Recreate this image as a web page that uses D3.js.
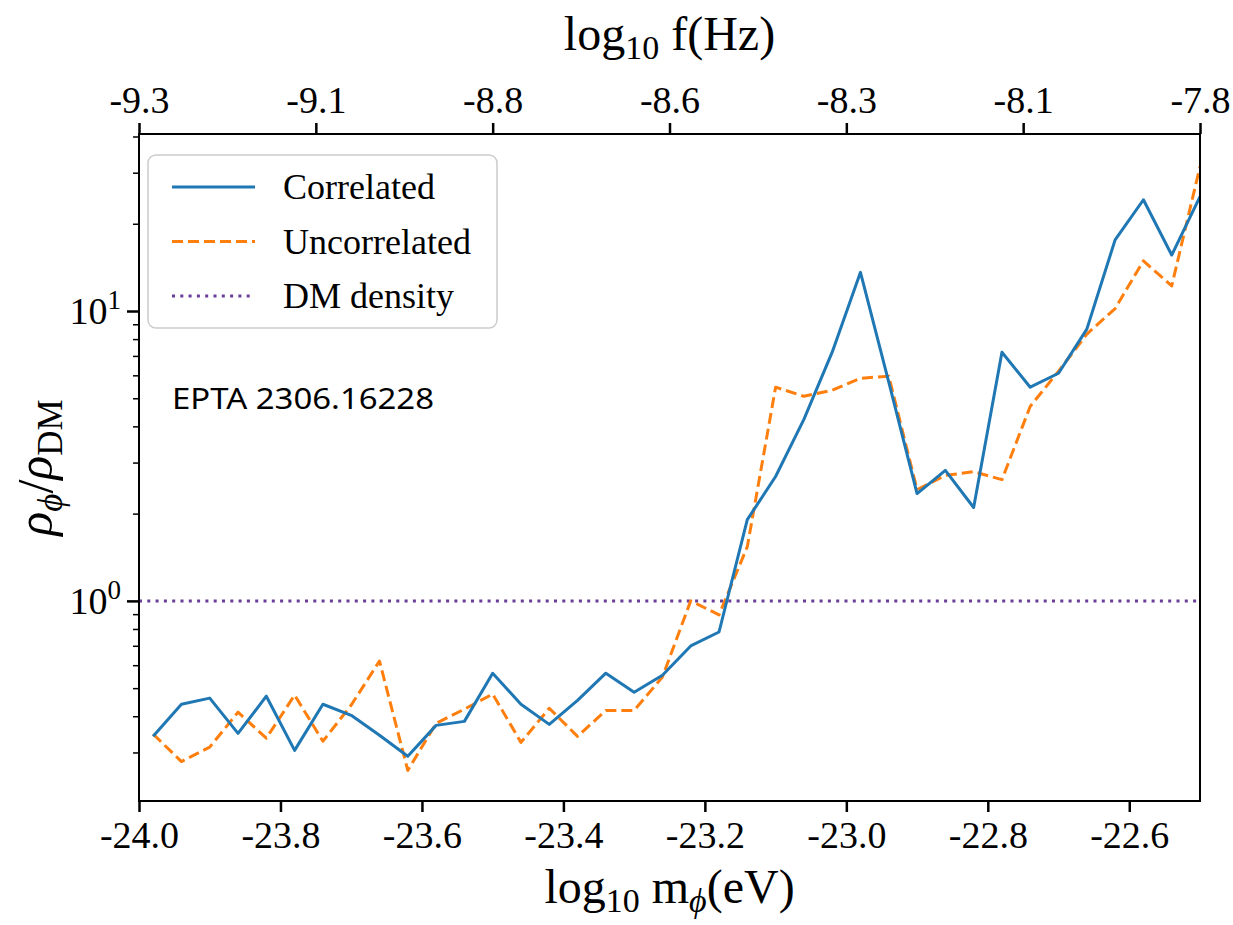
<!DOCTYPE html>
<html><head><meta charset="utf-8">
<script src="https://cdn.jsdelivr.net/npm/d3@7"></script>
<style>
body{margin:0;background:#fff}
</style>
</head><body>
<svg id="chart" width="1233" height="925" font-family="Liberation Serif, DejaVu Serif, serif"></svg>
<script>
// ---- data ----
const massLog = [-23.98,-23.94,-23.90,-23.86,-23.82,-23.78,-23.74,-23.70,-23.66,-23.62,
                 -23.58,-23.54,-23.50,-23.46,-23.42,-23.38,-23.34,-23.30,-23.26,-23.22,
                 -23.18,-23.14,-23.10,-23.06,-23.02,-22.98,-22.94,-22.90,-22.86,-22.82,
                 -22.78,-22.74,-22.70,-22.66,-22.62,-22.58,-22.54,-22.50];
const correlated = [0.341,0.440,0.462,0.349,0.469,0.305,0.440,0.403,0.344,0.291,
                    0.372,0.384,0.563,0.440,0.375,0.454,0.563,0.484,0.554,0.699,
                    0.781,1.906,2.686,4.23,7.21,13.6,5.68,2.345,2.82,2.10,
                    7.21,5.46,6.10,8.66,17.6,24.2,15.6,24.8];
const uncorrelated = [0.347,0.279,0.313,0.413,0.336,0.473,0.328,0.437,0.620,0.260,
                      0.378,0.423,0.477,0.325,0.426,0.341,0.419,0.419,0.546,1.0,
                      0.895,1.538,5.46,5.08,5.33,5.86,5.96,2.42,2.71,2.79,
                      2.62,4.69,6.20,8.32,10.2,14.9,12.2,31.5];
const dmDensity = 1.0;
const xDomain = [-24.0, -22.5];
const yDomain = [0.204, 40.8];
const bottomTicks = [-24.0,-23.8,-23.6,-23.4,-23.2,-23.0,-22.8,-22.6];
const topTickPos = [-24.0,-23.75,-23.5,-23.25,-23.0,-22.75,-22.5];
const topTickLabels = ["-9.3","-9.1","-8.8","-8.6","-8.3","-8.1","-7.8"];
const yMajor = [1, 10];
const yMinor = [0.3,0.4,0.5,0.6,0.7,0.8,0.9,2,3,4,5,6,7,8,9,20,30,40];
const legendLabels = ["Correlated","Uncorrelated","DM density"];
const noteText = "EPTA 2306.16228";

// ---- layout ----
const L = 139, R = 1200, T = 134, B = 801;
const colors = {corr:"#1f77b4", unc:"#ff7f0e", dm:"#6a3d9a"};
const svg = d3.select("#chart");
const x = d3.scaleLinear().domain(xDomain).range([L, R]);
const y = d3.scaleLog().domain(yDomain).range([B, T]);

svg.append("defs").append("clipPath").attr("id","clip")
  .append("rect").attr("x",L).attr("y",T).attr("width",R-L).attr("height",B-T);
const plot = svg.append("g").attr("clip-path","url(#clip)");

plot.append("line").attr("x1",L).attr("x2",R).attr("y1",y(dmDensity)).attr("y2",y(dmDensity))
  .attr("stroke",colors.dm).attr("stroke-width",3).attr("stroke-dasharray","3,5.3");

const line = d3.line().x((d,i)=>x(massLog[i])).y(d=>y(d));
plot.append("path").datum(uncorrelated).attr("d",line).attr("fill","none")
  .attr("stroke",colors.unc).attr("stroke-width",3).attr("stroke-dasharray","11,5")
  .attr("stroke-linejoin","round");
plot.append("path").datum(correlated).attr("d",line).attr("fill","none")
  .attr("stroke",colors.corr).attr("stroke-width",3).attr("stroke-linejoin","round");

// axes
const tickFont = "38px";
const bAxis = svg.append("g").attr("transform",`translate(0,${B})`)
  .call(d3.axisBottom(x).tickValues(bottomTicks).tickFormat(d3.format(".1f")).tickSize(11).tickPadding(9));
const tAxis = svg.append("g").attr("transform",`translate(0,${T})`)
  .call(d3.axisTop(x).tickValues(topTickPos).tickFormat((d,i)=>topTickLabels[i]).tickSize(11).tickPadding(10));
[bAxis,tAxis].forEach(a=>{
  a.attr("font-family",null).attr("font-size",null);
  a.select(".domain").remove();
  a.selectAll(".tick line").attr("stroke","#000").attr("stroke-width",2.5);
  a.selectAll(".tick text").style("font-family","Liberation Serif").style("font-size",tickFont).attr("fill","#000")
   .text(function(){return this.textContent.replace("−","-");});
});

const lAxis = svg.append("g").attr("transform",`translate(${L},0)`)
  .call(d3.axisLeft(y).tickValues(yMajor).tickFormat("").tickSize(12));
lAxis.select(".domain").remove();
lAxis.selectAll(".tick line").attr("stroke","#000").attr("stroke-width",2.5);
const lMinor = svg.append("g").attr("transform",`translate(${L},0)`)
  .call(d3.axisLeft(y).tickValues(yMinor).tickFormat("").tickSize(6));
lMinor.select(".domain").remove();
lMinor.selectAll(".tick line").attr("stroke","#000").attr("stroke-width",1.5);

yMajor.forEach(v=>{
  const t = svg.append("text").attr("x",L-18).attr("y",y(v)+13).attr("text-anchor","end")
    .attr("font-size",tickFont);
  t.append("tspan").text("10");
  t.append("tspan").attr("font-size","27px").attr("dy",-15).text(String(Math.round(Math.log10(v))));
});

svg.append("rect").attr("x",L).attr("y",T).attr("width",R-L).attr("height",B-T)
  .attr("fill","none").attr("stroke","#000").attr("stroke-width",2);

// axis labels
const xl = svg.append("text").attr("x",(L+R)/2).attr("y",903).attr("text-anchor","middle").attr("font-size","48px");
xl.append("tspan").text("log");
xl.append("tspan").attr("font-size","34px").attr("dy",9).text("10");
xl.append("tspan").attr("dy",-9).text(" m");
xl.append("tspan").attr("font-size","34px").attr("dy",9).attr("font-style","italic").text("ϕ");
xl.append("tspan").attr("dy",-9).text("(eV)");

const tl = svg.append("text").attr("x",(L+R)/2).attr("y",50).attr("text-anchor","middle").attr("font-size","48px");
tl.append("tspan").text("log");
tl.append("tspan").attr("font-size","34px").attr("dy",9).text("10");
tl.append("tspan").attr("dy",-9).text(" f(Hz)");

const yl = svg.append("text").attr("transform",`translate(52,${(T+B)/2}) rotate(-90)`)
  .attr("text-anchor","middle").attr("font-size","50px");
yl.append("tspan").attr("font-style","italic").text("ρ");
yl.append("tspan").attr("font-size","35px").attr("dy",10).attr("font-style","italic").text("ϕ");
yl.append("tspan").attr("dy",-10).text("/");
yl.append("tspan").attr("font-style","italic").text("ρ");
yl.append("tspan").attr("font-size","35px").attr("dy",10).text("DM");

// legend
const lg = svg.append("g");
lg.append("rect").attr("x",148).attr("y",155).attr("width",349).attr("height",173).attr("rx",8)
  .attr("fill","#fff").attr("fill-opacity",0.8).attr("stroke","#cccccc").attr("stroke-width",1.5);
const styles = [
  {c:colors.corr, d:null},
  {c:colors.unc, d:"11,5"},
  {c:colors.dm, d:"3,5.3"}
];
legendLabels.forEach((lab,i)=>{
  const cy = 187 + i*54.5;
  lg.append("line").attr("x1",172).attr("x2",255).attr("y1",cy).attr("y2",cy)
    .attr("stroke",styles[i].c).attr("stroke-width",3).attr("stroke-dasharray",styles[i].d);
  lg.append("text").attr("x",283).attr("y",cy+12).attr("font-size","36px").text(lab);
});

// annotation
svg.append("text").attr("x",172).attr("y",409).attr("font-size","29px")
  .attr("textLength",262).attr("lengthAdjust","spacingAndGlyphs")
  .attr("font-family","Noto Sans, DejaVu Sans, sans-serif").text(noteText);
</script>
</body></html>
